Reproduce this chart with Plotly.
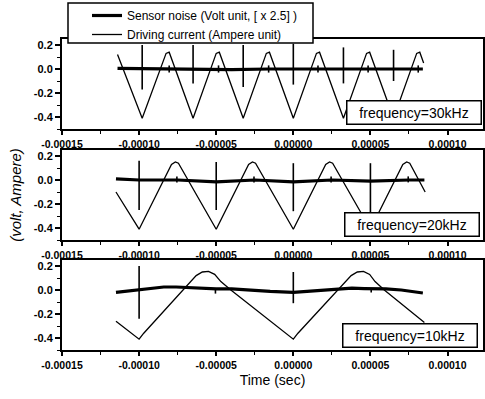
import plotly.graph_objects as go

# ---------------- data (times in microseconds) ----------------
US = 1e-6

# 30 kHz panel: sensor noise baseline, sensor noise spikes, driving current
noise30_t = [-114, -90, -65, -40, -16, 8, 33, 57, 84]
noise30_v = [0.005, 0.0, 0.0, -0.005, 0.0, 0.0, 0.0, -0.005, 0.0]
spike30_t = [-98, -98, None, -65, -65, None, -32.5, -32.5, None, 0, 0, None,
             32.5, 32.5, None, 65, 65, None,
             -80.5, -80.5, None, -48.5, -48.5, None, -16, -16, None,
             16, 16, None, 48.5, 48.5, None, 81, 81]
spike30_v = [0.20, -0.17, None, 0.20, -0.12, None, 0.20, -0.15, None, 0.21, -0.13, None,
             0.18, -0.12, None, 0.16, -0.10, None,
             0.03, -0.03, None, 0.03, -0.03, None, 0.03, -0.03, None,
             0.03, -0.03, None, 0.03, -0.03, None, 0.03, -0.03]
current30_t = [-114, -98, -82.5, -80.5, -65, -50, -48, -32.5, -17.5, -15.5,
               0, 15, 17, 32.5, 47.5, 49.5, 65, 80, 82, 84.5]
current30_v = [0.12, -0.41, 0.13, 0.14, -0.41, 0.13, 0.14, -0.41, 0.13, 0.14,
               -0.41, 0.13, 0.14, -0.41, 0.13, 0.14, -0.41, 0.13, 0.14, 0.05]

# 20 kHz panel
noise20_t = [-115, -100, -75, -50, -25, 0, 25, 50, 75, 85]
noise20_v = [0.01, 0.0, 0.0, -0.015, 0.0, -0.015, 0.0, -0.01, 0.0, 0.0]
spike20_t = [-100, -100, None, -50, -50, None, 0, 0, None, 50, 50, None,
             -75.5, -75.5, None, -25.5, -25.5, None, 24.5, 24.5, None, 74.5, 74.5]
spike20_v = [0.16, -0.25, None, 0.15, -0.25, None, 0.14, -0.26, None, 0.14, -0.27, None,
             0.03, -0.02, None, 0.03, -0.02, None, 0.03, -0.02, None, 0.03, -0.02]
current20_t = [-115, -100, -79, -76.5, -74.5, -50, -29, -26.5, -24.5, 0,
               21, 23.5, 25.5, 50, 71, 73.5, 75.5, 85.5]
current20_v = [-0.10, -0.41, 0.13, 0.15, 0.14, -0.41, 0.13, 0.15, 0.14, -0.41,
               0.13, 0.15, 0.14, -0.41, 0.13, 0.15, 0.14, -0.10]

# 10 kHz panel
noise10_t = [-115, -108, -100, -92, -84, -76, -68, -60, -50, -40, -30, -15,
             0, 10, 20, 30, 38, 46, 60, 70, 78, 84]
noise10_v = [-0.02, -0.01, 0.0, 0.015, 0.025, 0.025, 0.02, 0.012, 0.01, 0.01, 0.0, -0.012,
             -0.02, -0.01, 0.0, 0.012, 0.015, 0.012, 0.01, 0.0, -0.015, -0.025]
spike10_t = [-100, -100, None, 0, 0, None, -50.5, -50.5, None, 50.5, 50.5]
spike10_v = [0.20, -0.24, None, 0.15, -0.11, None, 0.01, -0.03, None, 0.01, -0.02]
current10_t = [-115, -100, -97, -71.5, -63, -59, -55, -51, -47, -40.5,
               0, 3, 29, 37.5, 41.5, 45.5, 49.5, 53, 59, 85]
current10_v = [-0.26, -0.41, -0.36, 0.0, 0.12, 0.15, 0.155, 0.13, 0.07, 0.0,
               -0.41, -0.36, 0.0, 0.12, 0.15, 0.155, 0.13, 0.07, 0.0, -0.27]

freq_labels = ["frequency=30kHz", "frequency=20kHz", "frequency=10kHz"]
legend_names = ["Sensor noise (Volt unit, [ x 2.5] )", "Driving current (Ampere unit)"]

x_tickvals = [-0.00015, -0.00010, -0.00005, 0.0, 0.00005, 0.00010]
x_ticktext = ["-0.00015", "-0.00010", "-0.00005", "0.00000", "0.00005", "0.00010"]
y_tickvals = [-0.4, -0.2, 0.0, 0.2]
y_ticktext = ["-0.4", "-0.2", "0.0", "0.2"]

x_title = "Time (sec)"
y_title = "(volt, Ampere)"

# ---------------- layout helpers ----------------
W, H = 485, 399
def px(x):
    return x / W
def py(y):
    return 1 - y / H

def us(ts):
    return [None if t is None else t * US for t in ts]

FONT = "Liberation Sans, Arial, sans-serif"

panels = [
    (noise30_t, noise30_v, spike30_t, spike30_v, current30_t, current30_v),
    (noise20_t, noise20_v, spike20_t, spike20_v, current20_t, current20_v),
    (noise10_t, noise10_v, spike10_t, spike10_v, current10_t, current10_v),
]
panel_tops = [39, 150, 260]
panel_h = 90
box_centers = [(413.5, 112), (412, 224), (410, 335)]

fig = go.Figure()
for i, (nt, nv, st, sv, ct, cv) in enumerate(panels):
    xa = "x" if i == 0 else f"x{i+1}"
    ya = "y" if i == 0 else f"y{i+1}"
    fig.add_trace(go.Scatter(x=us(nt), y=nv, mode="lines",
                             line=dict(color="black", width=3.2),
                             name=legend_names[0], legendgroup="noise",
                             showlegend=(i == 0), xaxis=xa, yaxis=ya))
    fig.add_trace(go.Scatter(x=us(st), y=sv, mode="lines", connectgaps=False,
                             line=dict(color="black", width=1.6),
                             name=legend_names[0], legendgroup="noise",
                             showlegend=False, xaxis=xa, yaxis=ya))
    fig.add_trace(go.Scatter(x=us(ct), y=cv, mode="lines",
                             line=dict(color="black", width=1.3),
                             name=legend_names[1], legendgroup="current",
                             showlegend=(i == 0), xaxis=xa, yaxis=ya))

xtickfont = dict(family=FONT, size=10.5, color="black", weight="bold")
ytickfont = dict(family=FONT, size=11, color="black", weight="bold")
layout = dict(
    width=W, height=H, autosize=False,
    margin=dict(l=0, r=0, t=0, b=0, pad=0),
    paper_bgcolor="white", plot_bgcolor="white",
    showlegend=True,
    legend=dict(x=px(87), y=py(1), xanchor="left", yanchor="top",
                bgcolor="rgba(0,0,0,0)", borderwidth=0,
                font=dict(family=FONT, size=12, color="black"),
                tracegroupgap=0),
)
for i in range(3):
    sfx = "" if i == 0 else str(i + 1)
    top = panel_tops[i]
    layout["xaxis" + sfx] = dict(
        domain=[px(62), px(483)], anchor="y" + sfx,
        range=[-0.00015, 0.000123], tickvals=x_tickvals, ticktext=x_ticktext,
        ticks="outside", ticklen=4, tickwidth=1.5, tickcolor="black",
        showline=True, linecolor="black", linewidth=2, mirror=True,
        showgrid=False, zeroline=False, automargin=False, tickfont=xtickfont,
        minor=dict(tick0=-0.00015, dtick=0.000025, ticks="outside", ticklen=3,
                   tickwidth=1.2, tickcolor="black", showgrid=False),
    )
    layout["yaxis" + sfx] = dict(
        domain=[py(top + panel_h), py(top)], anchor="x" + sfx,
        range=[-0.5, 0.25], tickvals=y_tickvals, ticktext=y_ticktext,
        ticks="outside", ticklen=5, tickwidth=1.5, tickcolor="black",
        showline=True, linecolor="black", linewidth=2, mirror=True,
        showgrid=False, zeroline=False, automargin=False, tickfont=ytickfont,
        minor=dict(tick0=0, dtick=0.1, ticks="outside", ticklen=3,
                   tickwidth=1.2, tickcolor="black", showgrid=False),
    )
layout["xaxis3"]["title"] = dict(text=x_title, standoff=6,
                                 font=dict(family=FONT, size=14, color="black"))
layout["yaxis2"]["title"] = dict(text=y_title, standoff=9,
                                 font=dict(family=FONT, size=15, color="black", style="italic"))

fig.update_layout(**layout)

# legend frame (opaque, covers the top frame line)
fig.add_shape(type="rect", xref="paper", yref="paper",
              x0=px(68), x1=px(313), y0=py(43), y1=py(3),
              fillcolor="white", line=dict(color="black", width=1.5), layer="above")

for (cx, cy), lab in zip(box_centers, freq_labels):
    fig.add_annotation(xref="paper", yref="paper", x=px(cx), y=py(cy),
                       xanchor="center", yanchor="middle", text=lab, showarrow=False,
                       font=dict(family=FONT, size=14, color="black"),
                       bgcolor="white", bordercolor="black", borderwidth=1.5,
                       borderpad=1, width=131, height=20)

fig.write_html("out.html")
